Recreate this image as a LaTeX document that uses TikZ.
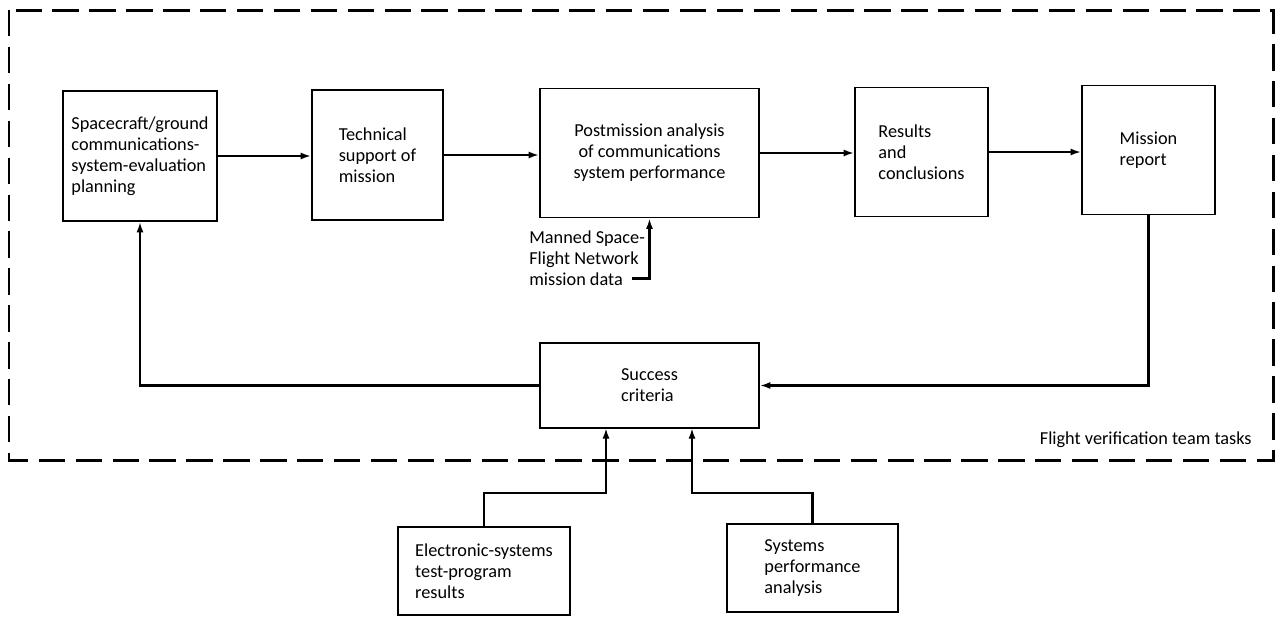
\documentclass[tikz,border=0pt]{standalone}
\usepackage{fontspec}
\setmainfont{Carlito}
\usetikzlibrary{positioning, arrows.meta}
\tikzset{
    taskbox/.style={rectangle, draw=black, line width=0.9pt, align=left, font=\fontsize{10.4}{11.9}\selectfont, inner sep=0.15cm},
    arr/.style={-{Latex[length=6pt, width=4pt]}, line width=1.4pt},
    teamframe/.style={line width=1.7pt, dash pattern=on 15pt off 6pt},
    notelbl/.style={font=\fontsize{10.4}{11.9}\selectfont, align=left, inner sep=0pt}
}
\begin{document}
\begin{tikzpicture}
        \useasboundingbox (0,0) rectangle (25.56,-12.34);

        % Team tasks boundary
        \draw[teamframe] (0.18,-0.20) rectangle (25.46,-9.20);
        \node[notelbl, anchor=east] (teamlbl) at (25.04,-8.80) {Flight verification team tasks};

        % Main chain
        \node[taskbox, minimum width=3.08cm, minimum height=2.60cm] (plan) at (2.80,-3.12) {Spacecraft/ground\\communications-\\system-evaluation\\planning};
        \node[taskbox, minimum width=2.62cm, minimum height=2.60cm] (tech) at (7.55,-3.10) {Technical\\support of\\mission};
        \node[taskbox, minimum width=4.38cm, minimum height=2.58cm, align=center] (post) at (12.99,-3.06) {Postmission analysis\\of communications\\system performance};
        \node[taskbox, minimum width=2.66cm, minimum height=2.58cm] (results) at (18.43,-3.04) {Results\\and\\conclusions};
        \node[taskbox, minimum width=2.66cm, minimum height=2.58cm] (report) at (22.97,-3.00) {Mission\\report};

        % Feedback and inputs
        \node[taskbox, minimum width=4.38cm, minimum height=1.70cm] (success) at (12.99,-7.71) {Success\\criteria};
        \node[taskbox, minimum width=3.44cm, minimum height=1.76cm] (elec) at (9.68,-11.42) {Electronic-systems\\test-program\\results};
        \node[taskbox, minimum width=3.42cm, minimum height=1.76cm] (sysperf) at (16.25,-11.36) {Systems\\performance\\analysis};

        \node[notelbl, anchor=west] (msfn) at (10.58,-5.16) {Manned Space-\\Flight Network\\mission data};
        \coordinate (msfnend) at (12.64,-5.57);

        \coordinate (elecin) at (12.12,-8.56);
        \coordinate (elecjoin) at (12.12,-9.86);
        \coordinate (sysin) at (13.84,-8.56);
        \coordinate (sysjoin) at (13.84,-9.86);

        \draw[arr] (plan.east) -- (plan.east -| tech.west);
        \draw[arr] (tech.east) -- (tech.east -| post.west);
        \draw[arr] (post.east) -- (post.east -| results.west);
        \draw[arr] (results.east) -- (results.east -| report.west);
        \draw[arr] (msfnend) -| (post.south);
        \draw[arr] (report.south) |- (success.east);
        \draw[arr] (success.west) -| (plan.south);
        \draw[arr] (elec.north) |- (elecjoin) -- (elecin);
        \draw[arr] (sysperf.north) |- (sysjoin) -- (sysin);

\end{tikzpicture}
\end{document}
